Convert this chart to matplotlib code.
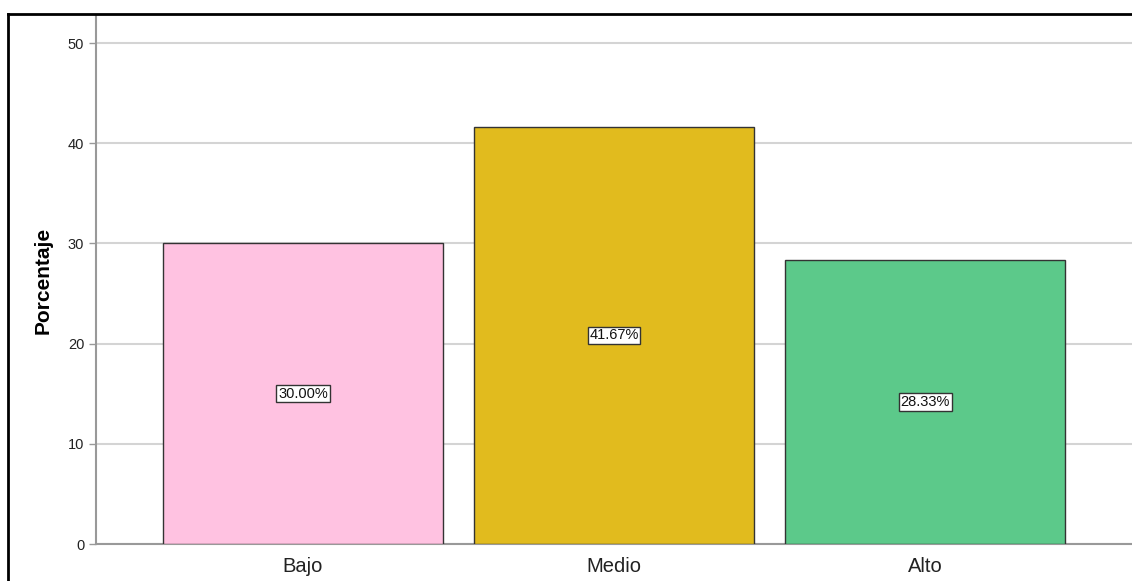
import matplotlib
matplotlib.use("Agg")
import matplotlib.pyplot as plt

categories = ["Bajo", "Medio", "Alto"]
values = [30.00, 41.67, 28.33]
labels = ["30.00%", "41.67%", "28.33%"]
colors = ["#FFC2E1", "#E1BB1E", "#5CC98A"]
yticks = [0, 10, 20, 30, 40, 50]

plt.rcParams['font.family'] = ['Liberation Sans', 'DejaVu Sans']

W, H = 1132, 581
fig = plt.figure(figsize=(W/100, H/100), dpi=100)
ax = fig.add_axes([96/W, 1-544/H, (W-96)/W, (544-16)/H])

x = list(range(len(categories)))
ax.bar(x, values, width=0.9, color=colors, edgecolor="#333333", linewidth=1.0, zorder=3)
for xi, v, lab in zip(x, values, labels):
    ax.text(xi, v/2, lab, ha="center", va="center", fontsize=10.5, color="#111111", zorder=4,
            bbox=dict(boxstyle="square,pad=0.12", facecolor="white", edgecolor="#333333", linewidth=1.0))

ax.set_xlim(-0.665, 2.665)
ax.set_ylim(0, 52.7)
ax.set_yticks(yticks)
ax.set_xticks(x)
ax.set_xticklabels(categories, fontsize=14.5, color="#222222")
ax.tick_params(axis="y", labelsize=10.5, colors="#222222", length=5, color="#999999", width=1)
ax.tick_params(axis="x", length=0, pad=9)
ax.yaxis.grid(True, color="#D4D4D4", linewidth=1.5, zorder=0)
ax.set_axisbelow(True)
for s in ["top", "right"]:
    ax.spines[s].set_visible(False)
ax.spines["left"].set_color("#999999")
ax.spines["left"].set_linewidth(1.5)
ax.spines["bottom"].set_color("#999999")
ax.spines["bottom"].set_linewidth(1.5)
ax.set_ylabel("Porcentaje", fontsize=15, fontweight="bold", labelpad=11)

# outer frame
fig.add_artist(plt.Line2D([8/W, 8/W], [0, 1-14/H], transform=fig.transFigure, color="black", linewidth=2))
fig.add_artist(plt.Line2D([8/W, 1], [1-14/H, 1-14/H], transform=fig.transFigure, color="black", linewidth=2))

fig.savefig("out.png", dpi=100, facecolor="white")
